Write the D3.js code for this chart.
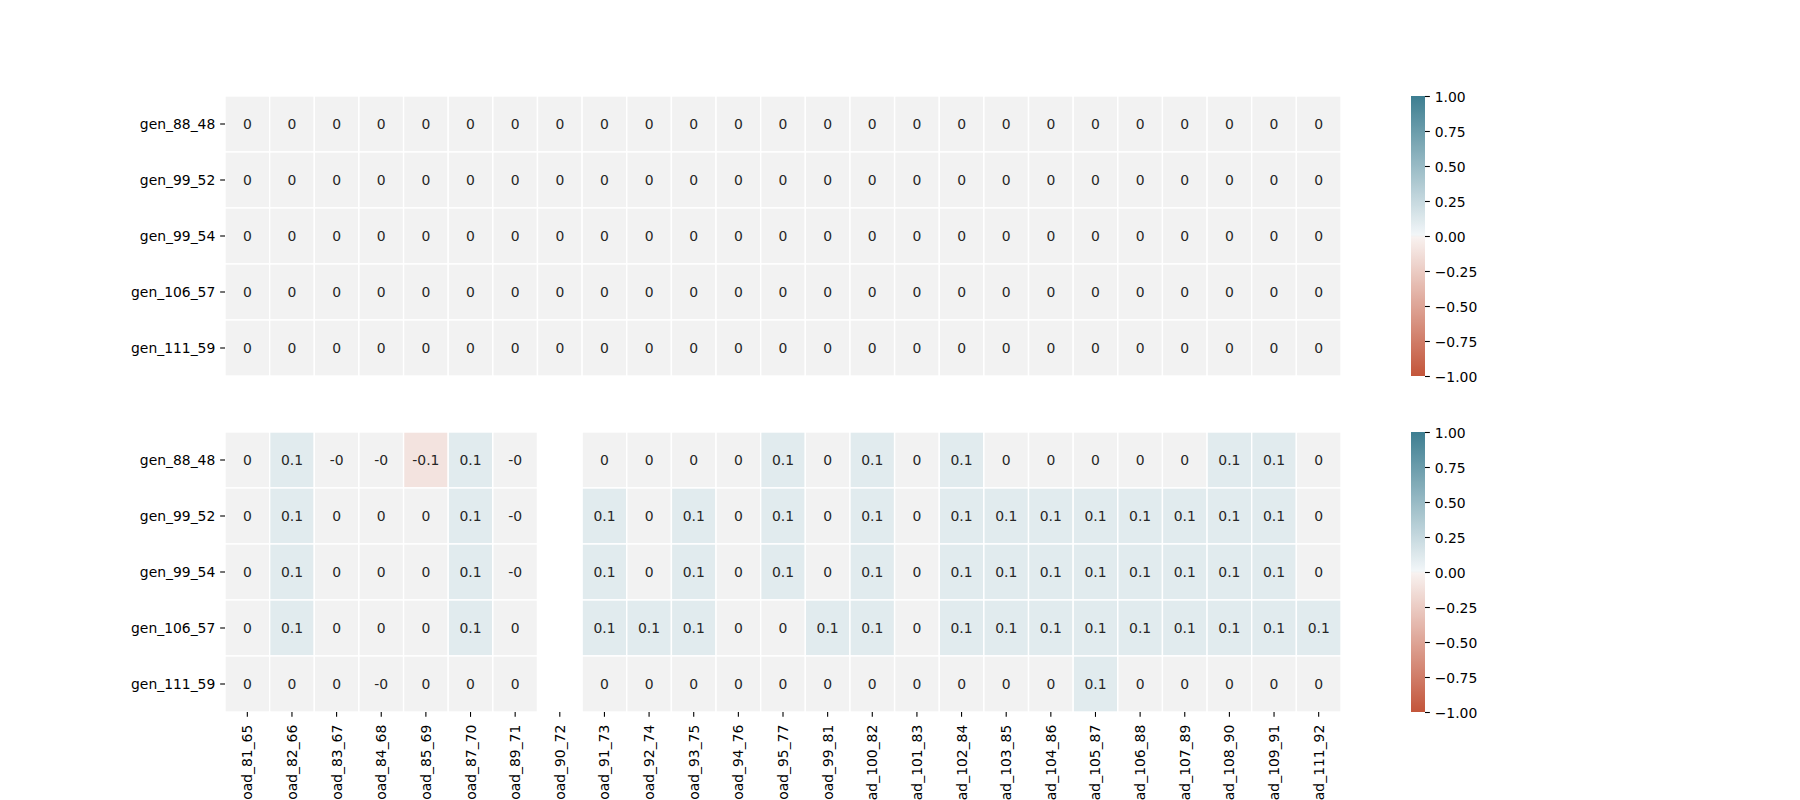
<!DOCTYPE html>
<html>
<head>
<meta charset="utf-8">
<script src="https://cdn.jsdelivr.net/npm/d3@7"></script>
<style>
  html, body { margin: 0; padding: 0; background: #ffffff; overflow: hidden; }
  svg { display: block; font-family: "DejaVu Sans", sans-serif; }
</style>
</head>
<body>
<svg id="chart" width="1800" height="800"></svg>
<script>
// ---------------- data ----------------
const xLabels = ["load_81_65", "load_82_66", "load_83_67", "load_84_68", "load_85_69", "load_87_70",
  "load_89_71", "load_90_72", "load_91_73", "load_92_74", "load_93_75", "load_94_76", "load_95_77",
  "load_99_81", "load_100_82", "load_101_83", "load_102_84", "load_103_85", "load_104_86",
  "load_105_87", "load_106_88", "load_107_89", "load_108_90", "load_109_91", "load_111_92"];

const yLabels = ["gen_88_48", "gen_99_52", "gen_99_54", "gen_106_57", "gen_111_59"];

const topValues = [
  [0, 0, 0, 0, 0, 0, 0, 0, 0, 0, 0, 0, 0, 0, 0, 0, 0, 0, 0, 0, 0, 0, 0, 0, 0],
  [0, 0, 0, 0, 0, 0, 0, 0, 0, 0, 0, 0, 0, 0, 0, 0, 0, 0, 0, 0, 0, 0, 0, 0, 0],
  [0, 0, 0, 0, 0, 0, 0, 0, 0, 0, 0, 0, 0, 0, 0, 0, 0, 0, 0, 0, 0, 0, 0, 0, 0],
  [0, 0, 0, 0, 0, 0, 0, 0, 0, 0, 0, 0, 0, 0, 0, 0, 0, 0, 0, 0, 0, 0, 0, 0, 0],
  [0, 0, 0, 0, 0, 0, 0, 0, 0, 0, 0, 0, 0, 0, 0, 0, 0, 0, 0, 0, 0, 0, 0, 0, 0]
];

const bottomValues = [
  [0, 0.1, -0, -0, -0.1, 0.1, -0, null, 0, 0, 0, 0, 0.1, 0, 0.1, 0, 0.1, 0, 0, 0, 0, 0, 0.1, 0.1, 0],
  [0, 0.1, 0, 0, 0, 0.1, -0, null, 0.1, 0, 0.1, 0, 0.1, 0, 0.1, 0, 0.1, 0.1, 0.1, 0.1, 0.1, 0.1, 0.1, 0.1, 0],
  [0, 0.1, 0, 0, 0, 0.1, -0, null, 0.1, 0, 0.1, 0, 0.1, 0, 0.1, 0, 0.1, 0.1, 0.1, 0.1, 0.1, 0.1, 0.1, 0.1, 0],
  [0, 0.1, 0, 0, 0, 0.1, 0, null, 0.1, 0.1, 0.1, 0, 0, 0.1, 0.1, 0, 0.1, 0.1, 0.1, 0.1, 0.1, 0.1, 0.1, 0.1, 0.1],
  [0, 0, 0, -0, 0, 0, 0, null, 0, 0, 0, 0, 0, 0, 0, 0, 0, 0, 0, 0.1, 0, 0, 0, 0, 0]
];

const colorTicks = [1, 0.75, 0.5, 0.25, 0, -0.25, -0.5, -0.75, -1];

// ---------------- layout ----------------
const svg = d3.select("#chart");
const FONT = 13.9;
const TICK = 4.86;
const PAD = 4.86;
const axLeft = 225, axRight = 1341;
const panels = [
  { top: 96, bottom: 376, values: topValues, showX: false },
  { top: 432, bottom: 712, values: bottomValues, showX: true }
];
const cbLeft = 1411, cbWidth = 14;

const color = d3.scaleLinear()
  .domain([-1, -0.0078, 0, 0.0078, 1])
  .range(["#c3553a", "#f8f2f0", "#f2f2f2", "#f2f6f8", "#3d7e91"])
  .interpolate(d3.interpolateRgb)
  .clamp(true);

function fmt(v) {
  if (Object.is(v, -0)) return "-0";
  const r = Math.round(v * 10) / 10;
  if (r === 0) return v < 0 ? "-0" : "0";
  return String(r);
}

const x = d3.scaleBand().domain(xLabels).range([axLeft, axRight]).padding(0);

// gradient for colorbar
const defs = svg.append("defs");
const grad = defs.append("linearGradient").attr("id", "cbgrad")
  .attr("x1", 0).attr("y1", 1).attr("x2", 0).attr("y2", 0);
const gradStops = d3.range(-1, 1.0001, 0.01).concat([-0.0078, 0.0078]).sort((a, b) => a - b);
grad.selectAll("stop").data(gradStops).join("stop")
  .attr("offset", d => ((d + 1) / 2 * 100) + "%")
  .attr("stop-color", d => color(d));

panels.forEach((p, pi) => {
  const y = d3.scaleBand().domain(yLabels).range([p.top, p.bottom]).padding(0);
  const g = svg.append("g");

  const cells = [];
  p.values.forEach((row, ri) => row.forEach((v, ci) => {
    cells.push({ row: yLabels[ri], col: xLabels[ci], v });
  }));
  const valid = cells.filter(c => c.v !== null);

  g.selectAll("rect.cell").data(valid).join("rect")
    .attr("class", "cell")
    .attr("x", d => x(d.col))
    .attr("y", d => y(d.row))
    .attr("width", x.bandwidth())
    .attr("height", y.bandwidth())
    .attr("fill", d => color(d.v))
    .attr("stroke", "#ffffff")
    .attr("stroke-width", 1.4);

  g.selectAll("text.annot").data(valid).join("text")
    .attr("class", "annot")
    .attr("x", d => x(d.col) + x.bandwidth() / 2)
    .attr("y", d => y(d.row) + y.bandwidth() / 2)
    .attr("text-anchor", "middle")
    .attr("dominant-baseline", "central")
    .attr("font-size", FONT)
    .attr("fill", "#262626")
    .text(d => fmt(d.v));

  // y axis
  const yAxis = d3.axisLeft(y).tickSize(TICK).tickPadding(PAD);
  const ya = svg.append("g").attr("transform", `translate(${axLeft},0)`).call(yAxis);
  ya.select(".domain").remove();
  ya.selectAll(".tick line").attr("stroke", "#000").attr("stroke-width", 1.1);
  ya.selectAll(".tick text").attr("font-size", FONT).attr("fill", "#000")
    .attr("font-family", "DejaVu Sans").attr("dy", null).attr("dominant-baseline", "central");

  if (p.showX) {
    const xAxis = d3.axisBottom(x).tickSize(TICK).tickPadding(PAD);
    const xa = svg.append("g").attr("transform", `translate(0,${p.bottom})`).call(xAxis);
    xa.select(".domain").remove();
    xa.selectAll(".tick line").attr("stroke", "#000").attr("stroke-width", 1.1);
    xa.selectAll(".tick text")
      .attr("font-size", FONT).attr("fill", "#000").attr("font-family", "DejaVu Sans")
      .attr("y", null).attr("dy", null)
      .attr("transform", `translate(0,${TICK + PAD + 3}) rotate(-90)`)
      .attr("text-anchor", "end")
      .attr("dominant-baseline", "central")
      .attr("x", 0);
  }

  // colorbar
  const cbScale = d3.scaleLinear().domain([-1, 1]).range([p.bottom, p.top]);
  svg.append("rect")
    .attr("x", cbLeft).attr("y", p.top)
    .attr("width", cbWidth).attr("height", p.bottom - p.top)
    .attr("fill", "url(#cbgrad)");
  const cbAxis = d3.axisRight(cbScale).tickValues(colorTicks).tickSize(TICK).tickPadding(PAD)
    .tickFormat(d => d3.format(".2f")(d).replace("-", "\u2212"));
  const ca = svg.append("g").attr("transform", `translate(${cbLeft + cbWidth},0)`).call(cbAxis);
  ca.select(".domain").remove();
  ca.selectAll(".tick line").attr("stroke", "#000").attr("stroke-width", 1.1);
  ca.selectAll(".tick text").attr("font-size", FONT).attr("fill", "#000")
    .attr("font-family", "DejaVu Sans").attr("dy", null).attr("dominant-baseline", "central");
});
</script>
</body>
</html>
